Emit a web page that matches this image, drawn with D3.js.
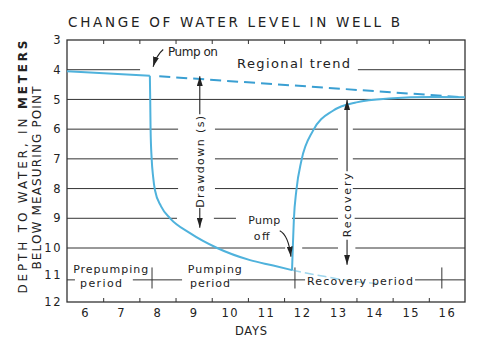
<!DOCTYPE html>
<html>
<head>
<meta charset="utf-8">
<script src="https://cdnjs.cloudflare.com/ajax/libs/d3/7.8.5/d3.min.js"></script>
<style>
  body { margin: 0; background: #fff; }
  text { font-family: "DejaVu Sans", sans-serif; fill: #222; }
</style>
</head>
<body>
<div id="chart"></div>
<script>
// depth to water (m below measuring point) against day, well B
var prepumping = [[5.5, 4.05], [7.79, 4.2]];
var pumping = [[7.79, 4.2], [7.8, 5.0], [7.81, 6.0], [7.84, 7.0], [7.88, 7.6], [7.93, 8.05],
  [8.1, 8.6], [8.35, 9.0], [8.9, 9.5], [9.65, 10.0], [10.56, 10.45], [11.2, 10.65], [11.72, 10.82]];
var recovery = [[11.72, 10.82], [11.74, 10.0], [11.77, 9.05], [11.84, 8.05], [11.98, 7.05],
  [12.3, 6.05], [12.85, 5.38], [13.5, 5.1], [14.4, 4.97], [15.6, 4.92], [16.5, 4.93]];
// drawdown that would have continued if pump had stayed on
var extendedDrawdown = [[11.72, 10.82], [12.6, 11.05], [13.5, 11.25], [14.2, 11.32]];
var regionalTrend = [[8.05, 4.22], [16.5, 4.93]];

var dayLabels = [6, 7, 8, 9, 10, 11, 12, 13, 14, 15, 16];
var dayTicks = [6.5, 7.5, 8.5, 9.5, 10.5, 11.5, 12.5, 13.5, 14.5, 15.5];
var depthLabels = [3, 4, 5, 6, 7, 8, 9, 10, 11, 12];
var gridLevels = [4, 5, 6, 7, 8, 9, 10];
// pieces of the grid left blank for the notes: [level, from day, to day]
var gridGaps = [[4, 7.52, 13.54], [6, 8.57, 9.59], [6, 12.99, 13.4], [7, 8.57, 9.59], [7, 12.99, 13.4],
  [8, 8.57, 9.59], [8, 12.99, 13.4], [9, 8.54, 9.56], [9, 10.17, 11.72], [9, 12.99, 13.45],
  [10, 11.53, 12.0], [10, 12.99, 13.47]];

var pumpOnDay = 7.85, pumpOffDay = 11.8, recoveryEndDay = 15.86;
var periodLevel = 11.18;
var periodGaps = [[5.72, 7.32], [8.68, 10.0], [12.08, 15.12]];

var W = 481, H = 343;
var svg = d3.select("#chart").append("svg")
  .attr("width", W).attr("height", H)
  .style("background", "#fff");

var x = d3.scaleLinear().domain([5.5, 16.5]).range([67, 465]);
// the hand drawn scale is a bit squeezed near the bottom
var y = d3.scaleLinear().domain([3, 10, 12]).range([40, 248, 302]);

var blue = "#4fb2dc";

// title
svg.append("text")
  .attr("x", 68).attr("y", 27)
  .attr("textLength", 332).attr("lengthAdjust", "spacing")
  .style("font-size", "13.5px")
  .text("CHANGE OF WATER LEVEL IN WELL B");

// y axis titles
svg.append("text")
  .attr("transform", "translate(27,167) rotate(-90)")
  .attr("text-anchor", "middle")
  .attr("textLength", 253).attr("lengthAdjust", "spacing")
  .style("font-size", "12px")
  .html('DEPTH TO WATER, IN <tspan style="font-weight:bold">METERS</tspan>');
svg.append("text")
  .attr("transform", "translate(41,178) rotate(-90)")
  .attr("text-anchor", "middle")
  .attr("textLength", 183).attr("lengthAdjust", "spacing")
  .style("font-size", "12px")
  .text("BELOW MEASURING POINT");

// grid with gaps
function pieces(from, to, gaps) {
  var out = [], start = from;
  gaps.slice().sort((a, b) => a[0] - b[0]).forEach(function(g) {
    out.push([start, g[0]]);
    start = g[1];
  });
  out.push([start, to]);
  return out;
}
var gridSegs = [];
gridLevels.forEach(function(lv) {
  var g = gridGaps.filter(d => d[0] === lv).map(d => [d[1], d[2]]);
  pieces(5.5, 16.5, g).forEach(p => gridSegs.push({ lv: lv, a: p[0], b: p[1] }));
});
svg.append("g").selectAll("line")
  .data(gridSegs)
  .join("line")
    .attr("x1", d => x(d.a)).attr("x2", d => x(d.b))
    .attr("y1", d => y(d.lv)).attr("y2", d => y(d.lv))
    .attr("stroke", "#333").attr("stroke-width", 1);

// period line and separators
svg.append("g").selectAll("line")
  .data(pieces(5.5, 16.5, periodGaps))
  .join("line")
    .attr("x1", d => x(d[0])).attr("x2", d => x(d[1]))
    .attr("y1", y(periodLevel)).attr("y2", y(periodLevel))
    .attr("stroke", "#333").attr("stroke-width", 1);
svg.append("g").selectAll("line")
  .data([pumpOnDay, pumpOffDay, recoveryEndDay])
  .join("line")
    .attr("x1", d => x(d)).attr("x2", d => x(d))
    .attr("y1", y(10.72)).attr("y2", y(11.5))
    .attr("stroke", "#333").attr("stroke-width", 1);

// frame
svg.append("rect")
  .attr("x", x(5.5)).attr("y", y(3))
  .attr("width", x(16.5) - x(5.5)).attr("height", y(12) - y(3))
  .attr("fill", "none").attr("stroke", "#333").attr("stroke-width", 1.3);

// axes
var xb = svg.append("g").attr("transform", `translate(0,${y(12)})`)
  .call(d3.axisBottom(x).tickValues(dayTicks).tickSize(-4).tickFormat(""));
var xt = svg.append("g").attr("transform", `translate(0,${y(3)})`)
  .call(d3.axisTop(x).tickValues(dayTicks).tickSize(-4).tickFormat(""));
var xl = svg.append("g").attr("transform", `translate(0,${y(12)})`)
  .call(d3.axisBottom(x).tickValues(dayLabels).tickSize(0).tickPadding(7).tickFormat(d3.format("d")));
var yl = svg.append("g").attr("transform", `translate(${x(5.5)},0)`)
  .call(d3.axisLeft(y).tickValues(depthLabels).tickSize(0).tickPadding(5).tickFormat(d3.format("d")));
[xb, xt, xl, yl].forEach(function(g) {
  g.select(".domain").remove();
  g.selectAll(".tick line").attr("stroke", "#333");
  g.selectAll("text").style("font-size", "11.5px").attr("fill", "#222")
    .style("font-family", '"DejaVu Sans", sans-serif').style("letter-spacing", "1.5px");
});

svg.append("text")
  .attr("x", 251).attr("y", 335).attr("text-anchor", "middle")
  .attr("textLength", 32).attr("lengthAdjust", "spacing")
  .style("font-size", "11.5px")
  .text("DAYS");

// water level curves
var line = d3.line().x(d => x(d[0])).y(d => y(d[1]));
var curved = d3.line().x(d => x(d[0])).y(d => y(d[1])).curve(d3.curveMonotoneX);

svg.append("path").datum(extendedDrawdown)
  .attr("d", curved).attr("fill", "none")
  .attr("stroke", blue).attr("stroke-opacity", 0.55)
  .attr("stroke-width", 1.5).attr("stroke-dasharray", "9,4");
svg.append("path").datum(regionalTrend)
  .attr("d", line).attr("fill", "none")
  .attr("stroke", "#3a9fd2").attr("stroke-width", 2)
  .attr("stroke-dasharray", "11,6");
[prepumping, pumping, recovery].forEach(function(s) {
  svg.append("path").datum(s)
    .attr("d", curved).attr("fill", "none")
    .attr("stroke", blue).attr("stroke-width", 2)
    .attr("stroke-linejoin", "round");
});

// arrowheads
var defs = svg.append("defs");
defs.append("marker")
  .attr("id", "head").attr("viewBox", "0 0 10 6")
  .attr("refX", 10).attr("refY", 3)
  .attr("markerWidth", 10).attr("markerHeight", 6)
  .attr("markerUnits", "userSpaceOnUse")
  .attr("orient", "auto")
  .append("path").attr("d", "M0,0 L10,3 L0,6 Z").attr("fill", "#222");

function arrow(a, b) {
  svg.append("line")
    .attr("x1", x(a[0])).attr("y1", y(a[1]))
    .attr("x2", x(b[0])).attr("y2", y(b[1]))
    .attr("stroke", "#222").attr("stroke-width", 1.1)
    .attr("marker-end", "url(#head)");
}
function bentArrow(a, c, b) {
  svg.append("path")
    .attr("d", `M${x(a[0])},${y(a[1])} Q${x(c[0])},${y(c[1])} ${x(b[0])},${y(b[1])}`)
    .attr("fill", "none")
    .attr("stroke", "#222").attr("stroke-width", 1.1)
    .attr("marker-end", "url(#head)");
}

// drawdown
var ddDay = 9.17;
arrow([ddDay, 5.5], [ddDay, 4.22]);
arrow([ddDay, 8.65], [ddDay, 9.32]);
svg.append("text")
  .attr("transform", `translate(${x(ddDay) + 4},${y(7.1)}) rotate(-90)`)
  .attr("text-anchor", "middle")
  .attr("textLength", 92).attr("lengthAdjust", "spacing")
  .style("font-size", "11px")
  .text("Drawdown (s)");

// recovery
var recDay = 13.24;
arrow([recDay, 7.42], [recDay, 5.02]);
arrow([recDay, 9.72], [recDay, 10.62]);
svg.append("text")
  .attr("transform", `translate(${x(recDay) + 4},${y(8.56)}) rotate(-90)`)
  .attr("text-anchor", "middle")
  .attr("textLength", 64).attr("lengthAdjust", "spacing")
  .style("font-size", "11px")
  .text("Recovery");

// pump on / off notes
svg.append("text")
  .attr("x", x(8.29)).attr("y", y(3.54))
  .attr("textLength", 50).attr("lengthAdjust", "spacing")
  .style("font-size", "12px")
  .text("Pump on");
bentArrow([8.16, 3.32], [7.98, 3.5], [7.88, 3.9]);

svg.append("text")
  .attr("x", x(10.95)).attr("y", y(9.18)).attr("text-anchor", "middle")
  .attr("textLength", 32).attr("lengthAdjust", "spacing")
  .style("font-size", "11px")
  .text("Pump");
svg.append("text")
  .attr("x", x(10.88)).attr("y", y(9.72)).attr("text-anchor", "middle")
  .attr("textLength", 16).attr("lengthAdjust", "spacing")
  .style("font-size", "11px")
  .text("off");
bentArrow([11.38, 9.42], [11.62, 9.57], [11.69, 10.32]);

svg.append("text")
  .attr("x", x(10.2)).attr("y", y(3.95))
  .attr("textLength", 113).attr("lengthAdjust", "spacing")
  .style("font-size", "13px")
  .text("Regional trend");

// period labels
var periodText = [
  { t: "Prepumping", d: 5.67, v: 10.93, w: 75 },
  { t: "period", d: 5.86, v: 11.44, w: 42 },
  { t: "Pumping", d: 8.84, v: 10.93, w: 54 },
  { t: "period", d: 8.9, v: 11.44, w: 40 },
  { t: "Recovery period", d: 12.13, v: 11.37, w: 106 }
];
svg.append("g").selectAll("text")
  .data(periodText)
  .join("text")
    .attr("x", d => x(d.d)).attr("y", d => y(d.v))
    .attr("textLength", d => d.w).attr("lengthAdjust", "spacing")
    .style("font-size", "11px")
    .text(d => d.t);
</script>
</body>
</html>
